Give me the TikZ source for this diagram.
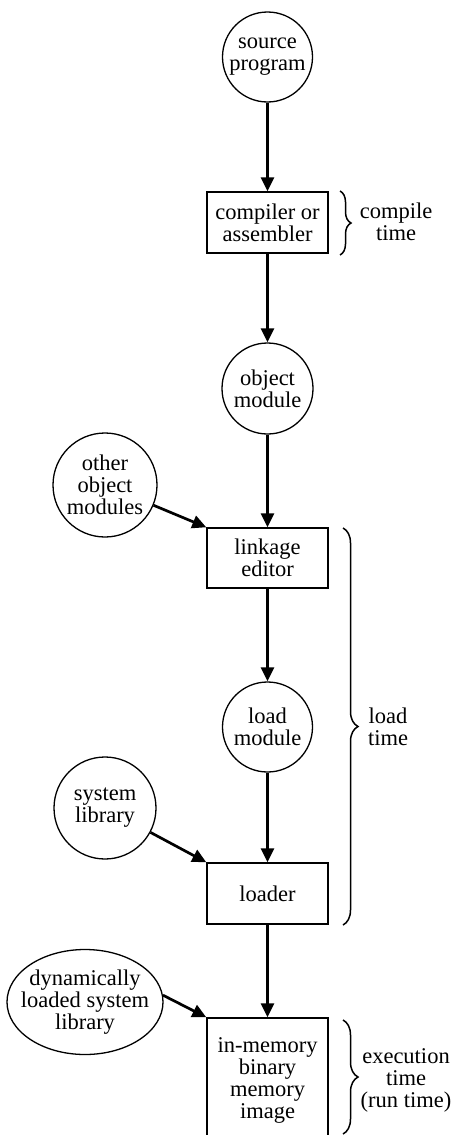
\documentclass[tikz,border=0pt]{standalone}
\usepackage{fontspec}
\setmainfont{Liberation Serif}
\usetikzlibrary{arrows.meta,shapes.geometric,decorations.pathreplacing}
\begin{document}
\begin{tikzpicture}[x=1pt,y=-1pt,
  txt/.style={font=\fontsize{22.5}{22}\selectfont, align=center},
  circ/.style={txt, circle, draw, line width=1.3pt, inner sep=0pt, minimum size=#1},
  stage/.style={txt, rectangle, draw, line width=1.4pt, minimum width=121pt, minimum height=61pt, inner sep=0pt},
  flow/.style={line width=2.7pt, -{Triangle[length=14pt,width=13pt]}},
  period/.style={decorate, decoration={brace, amplitude=#1}, line width=1.5pt},
  ]
\clip (0,0) rectangle (452,1135);
\fill[white] (0,0) rectangle (452,1135);

% main chain
\node[circ=90pt] (src) at (267.5,57) {source\\program};
\node[stage] (comp) at (267.5,222.5) {compiler or\\assembler};
\node[circ=91pt] (obj) at (267.5,388.5) {object\\module};
\node[stage, minimum height=60pt] (link) at (267.5,558) {linkage\\editor};
\node[circ=90pt] (loadm) at (267.5,727) {load\\module};
\node[stage] (loader) at (267.5,893.5) {loader};
\node[stage, minimum height=124pt] (mem) at (267.5,1080) {in-memory\\binary\\memory\\image};

% side inputs
\node[circ=104pt] (other) at (105,485) {other\\object\\modules};
\node[circ=102pt] (syslib) at (105,808) {system\\library};
\node[txt, ellipse, draw, line width=1.3pt, minimum width=156pt, minimum height=105pt,
      inner xsep=-12pt, inner ysep=0pt] (dyn) at (85,1002) {dynamically\\loaded system\\library};

% connectors
\draw[flow] (src.south) -- (comp.north);
\draw[flow] (comp.south) -- (obj.north);
\draw[flow] (obj.south) -- (link.north);
\draw[flow] (link.south) -- (loadm.north);
\draw[flow] (loadm.south) -- (loader.north);
\draw[flow] (loader.south) -- (mem.north);
\draw[flow] (other) -- (link.north west);
\draw[flow] (syslib) -- (loader.north west);
\draw[flow] (dyn.5) -- (mem.north west);

% time periods
\draw[period=11pt] (340,191) -- (340,255);
\draw[period=15pt] (343,528) -- (343,925);
\draw[period=15pt] (343,1020) -- (343,1134);
\node[txt] (ct) at (396,222) {compile\\time};
\node[txt] (lt) at (388,727) {load\\time};
\node[txt] (et) at (406,1080) {execution\\time\\(run time)};
\end{tikzpicture}
\end{document}
